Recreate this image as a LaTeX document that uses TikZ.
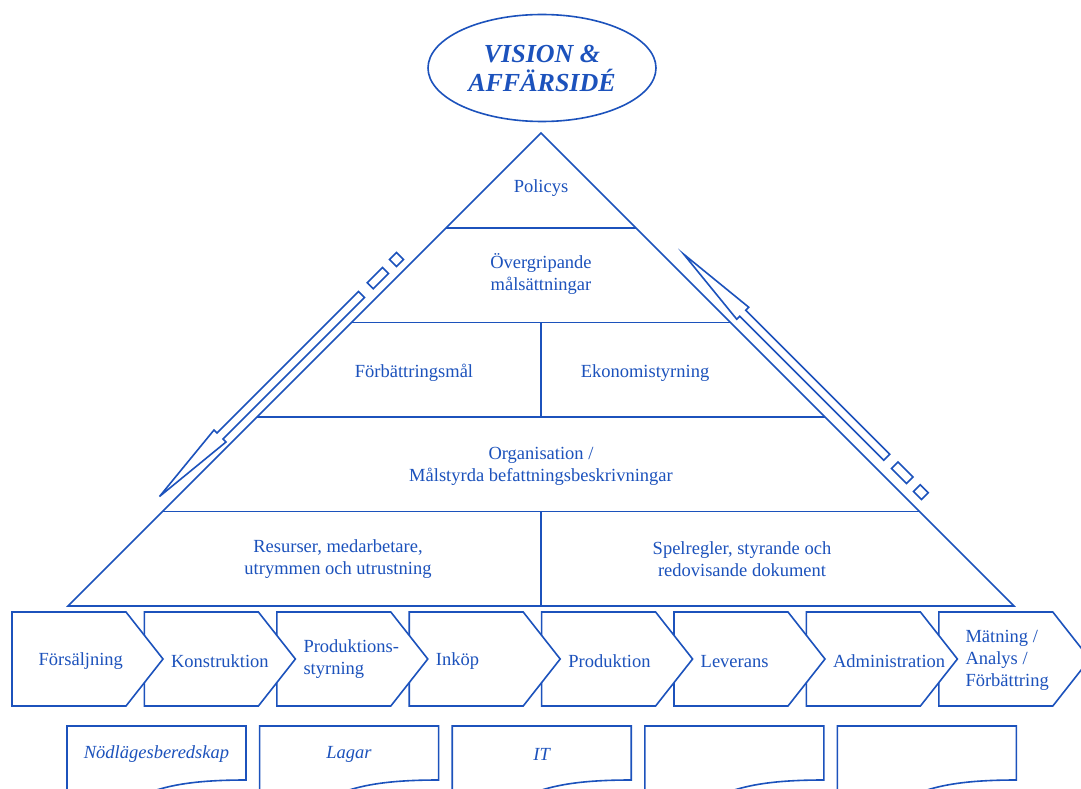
\documentclass[tikz,border=0pt]{standalone}
\usepackage{fontspec}
\setmainfont{Liberation Serif}
\usetikzlibrary{shapes.geometric}
\definecolor{db}{RGB}{28,82,188}
\begin{document}
\begin{tikzpicture}[x=1pt,y=-1pt,
  every node/.style={text=db, font=\fontsize{18.5}{22}\selectfont},
  ln/.style={draw=db, line width=1.6pt, line join=miter},
  chev/.style={draw=db, fill=white, line width=1.6pt},
  docbox/.style={draw=db, fill=white, line width=1.6pt},
  lbl/.style={align=center, inner sep=0pt},
  chl/.style={anchor=west, align=left, inner sep=0pt},
  dl/.style={font=\fontsize{18.5}{22}\selectfont\itshape, inner sep=0pt}]
\useasboundingbox (0,0) rectangle (1081,789);
\clip (0,0) rectangle (1081,789);
\fill[white] (0,0) rectangle (1081,789);

% Vision ellipse
\node[ellipse, draw=db, line width=1.6pt, minimum width=228pt, minimum height=107pt, inner sep=0pt, align=center,
  font=\fontsize{26}{29}\selectfont\bfseries\itshape] (vision) at (542,68) {VISION \&\\AFFÄRSIDÉ};

% Pyramid coordinates
\coordinate (apex) at (541,133);
\coordinate (l1) at (446,228);   \coordinate (r1) at (636,228);
\coordinate (l2) at (351.5,322.5); \coordinate (r2) at (730.5,322.5);
\coordinate (l3) at (257,417);   \coordinate (r3) at (825,417);
\coordinate (l4) at (162.5,511.5); \coordinate (r4) at (919.5,511.5);
\coordinate (l5) at (68,606);    \coordinate (r5) at (1014,606);
\coordinate (m2) at (541,322.5); \coordinate (m3) at (541,417);
\coordinate (m4) at (541,511.5); \coordinate (m5) at (541,606);

\draw[ln] (l5) -- (apex) -- (r5) -- cycle;
\draw[ln] (l1) -- (r1);
\draw[ln] (l2) -- (r2);
\draw[ln] (l3) -- (r3);
\draw[ln] (l4) -- (r4);
\draw[ln] (m2) -- (m3);
\draw[ln] (m4) -- (m5);

% Pyramid texts
\node[lbl] (policys) at (541,188) {Policys};
\node[lbl] (overg) at (541,274) {Övergripande\\målsättningar};
\node[lbl] (forb) at (414,373) {Förbättringsmål};
\node[lbl] (ekon) at (645,373) {Ekonomistyrning};
\node[lbl] (org) at (541,466) {Organisation /\\Målstyrda befattningsbeskrivningar};
\node[lbl] (res) at (338,559) {Resurser, medarbetare,\\utrymmen och utrustning};
\node[lbl] (spel) at (742,559) {Spelregler, styrande och\\redovisande dokument};

% Left arrow (pointing down-left)
\draw[ln] (159.5,496.5) -- (214,430) -- (217,433) -- (358.5,291.5) -- (364.5,297.5) -- (223,439) -- (226,442) -- cycle;
\draw[ln] (367.25,282.75) -- (382.5,267.5) -- (388.5,273.5) -- (373.25,288.75) -- cycle;
\draw[ln] (389.5,259.5) -- (396.5,252.5) -- (403.5,259.5) -- (396.5,266.5) -- cycle;

% Right arrow (pointing up-left)
\draw[ln] (683.75,254.25) -- (748.75,307.25) -- (745.75,310.25) -- (889.75,454.25) -- (883.75,460.25) -- (739.75,316.25) -- (736.75,319.25) -- cycle;
\draw[ln] (891.5,468.5) -- (898,462) -- (913,477) -- (906.5,483.5) -- cycle;
\draw[ln] (913.5,491.5) -- (920.25,484.75) -- (928.25,492.75) -- (921.5,499.5) -- cycle;

% Process chevrons
\foreach \k in {7,6,...,0} {
  \pgfmathsetmacro\l{12+132.4*\k}
  \draw[chev] (\l,612) -- ({\l+114},612) -- ({\l+151},659) -- ({\l+114},706) -- (\l,706) -- cycle;
}
\node[chl] (c1) at (38.5,661.5) {Försäljning};
\node[chl] (c2) at (170.9,661.5) {Konstruktion};
\node[chl] (c3) at (303.3,659.5) {Produktions-\\styrning};
\node[chl] (c4) at (435.7,661.5) {Inköp};
\node[chl] (c5) at (568.1,661.5) {Produktion};
\node[chl] (c6) at (700.5,661.5) {Leverans};
\node[chl] (c7) at (832.9,661.5) {Administration};
\node[chl] (c8) at (965.3,660) {Mätning /\\Analys /\\Förbättring};

% Document boxes
\foreach \k in {0,...,4} {
  \pgfmathsetmacro\l{67+192.6*\k}
  \pgfmathsetmacro\r{\l+179}
  \draw[docbox] (\l,726) -- (\r,726) -- (\r,780) .. controls ({\r-45},780) and ({\r-70},784) .. ({\l+89.5},790) .. controls ({\l+50},796) and ({\l+20},800) .. (\l,799) -- cycle;
}
\node[dl] (d1) at (156.5,754) {Nödlägesberedskap};
\node[dl] (d2) at (349,754.5) {Lagar};
\node[dl] (d3) at (541.6,754) {IT};
\end{tikzpicture}
\end{document}
